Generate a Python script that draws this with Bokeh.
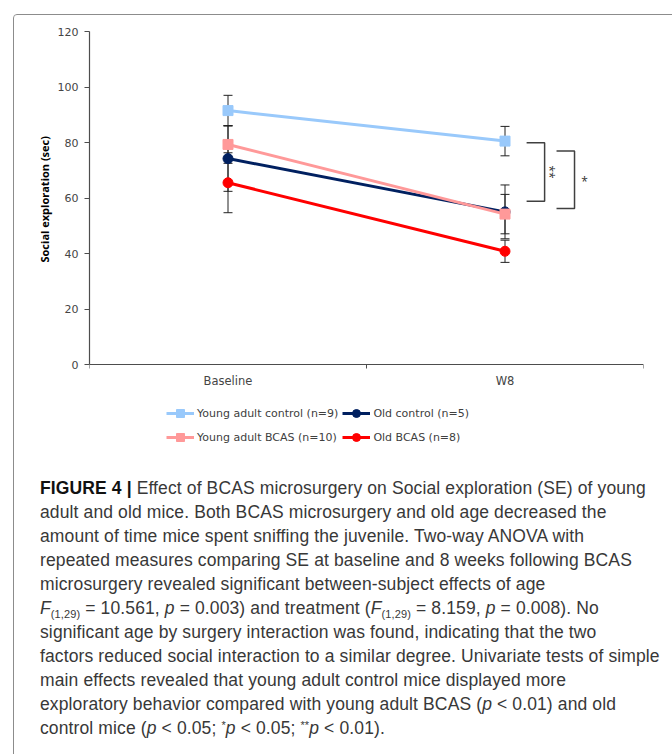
from bokeh.plotting import figure
from bokeh.models import (Range1d, FixedTicker, Whisker, TeeHead, ColumnDataSource,
                          Legend, LegendItem, Div, Title)
from bokeh.layouts import column
from bokeh.core.properties import value
from bokeh.embed import file_html
from bokeh.resources import INLINE
import math

# ---------------- data ----------------
categories = ["Baseline", "W8"]
group_names = ["Young adult control (n=9)", "Old control (n=5)",
               "Young adult BCAS (n=10)", "Old BCAS (n=8)"]
young_control_mean = [91.5, 80.5]
young_control_err = [5.5, 5.3]
old_control_mean = [74.2, 55.0]
old_control_err = [11.8, 9.7]
young_bcas_mean = [79.3, 54.2]
young_bcas_err = [6.8, 7.1]
old_bcas_mean = [65.5, 40.8]
old_bcas_err = [10.8, 4.0]
y_ticks = [0, 20, 40, 60, 80, 100, 120]
y_title = "Social exploration (sec)"
sig_labels = ["**", "*"]
sig_top = [79.9, 76.9]
sig_bottom = [58.8, 56.2]

# ---------------- figure ----------------
xs = [i + 0.5 for i in range(len(categories))]
Y_MAX = 120
# the frame extends below 0 so the legend can live inside it; 2.775 px per unit
Y_MIN = -(450 - 364) / 2.775

p = figure(output_backend="svg", toolbar_location=None,
           width=654, height=455,
           min_border_left=75, min_border_right=25, min_border_top=16, min_border_bottom=20,
           x_range=Range1d(0, len(categories)), y_range=Range1d(Y_MIN, Y_MAX))
p.outline_line_color = None
p.background_fill_color = "white"
p.border_fill_color = "white"
p.xgrid.visible = False
p.ygrid.visible = False

AX = "#4d4d4d"
TXT = "#454545"
FONT = "DejaVu Sans"

p.yaxis.ticker = FixedTicker(ticks=y_ticks)
p.yaxis.bounds = (0, Y_MAX)
p.yaxis.axis_line_color = AX
p.yaxis.axis_line_width = 1.2
p.yaxis.major_tick_line_color = AX
p.yaxis.major_tick_out = 5
p.yaxis.major_tick_in = 0
p.yaxis.minor_tick_line_color = None
p.yaxis.major_label_text_font = FONT
p.yaxis.major_label_text_font_size = "11px"
p.yaxis.major_label_text_color = TXT
p.yaxis.major_label_standoff = 6

ytitle = Title(text=y_title, align="left", offset=188, standoff=5,
               text_font="Open Sans", text_font_style="bold", text_font_size="11px",
               text_color="#000000")
p.add_layout(ytitle, "left")

p.xaxis.fixed_location = 0
p.xaxis.ticker = FixedTicker(ticks=xs, minor_ticks=list(range(len(categories) + 1)))
p.xaxis.major_label_overrides = {x: c for x, c in zip(xs, categories)}
p.xaxis.axis_line_color = AX
p.xaxis.axis_line_width = 1.2
p.xaxis.major_tick_line_color = None
p.xaxis.major_tick_out = 0
p.xaxis.major_tick_in = 0
p.xaxis.minor_tick_line_color = AX
p.xaxis.minor_tick_out = 4
p.xaxis.minor_tick_in = 0
p.xaxis.major_label_text_font = FONT
p.xaxis.major_label_text_font_size = "11.5px"
p.xaxis.major_label_text_color = TXT
p.xaxis.major_label_standoff = 5

series = [
    (group_names[0], young_control_mean, young_control_err, "#99c9fb", "square"),
    (group_names[1], old_control_mean, old_control_err, "#002060", "circle"),
    (group_names[2], young_bcas_mean, young_bcas_err, "#ff9999", "square"),
    (group_names[3], old_bcas_mean, old_bcas_err, "#ff0000", "circle"),
]

items = []
for name, mean, err, color, marker in series:
    src = ColumnDataSource(dict(x=xs, y=mean,
                                upper=[m + e for m, e in zip(mean, err)],
                                lower=[m - e for m, e in zip(mean, err)]))
    w = Whisker(source=src, base="x", upper="upper", lower="lower", dimension="height",
                line_color="#222222", line_width=1,
                upper_head=TeeHead(size=9, line_color="#222222", line_width=1),
                lower_head=TeeHead(size=9, line_color="#222222", line_width=1),
                level="underlay")
    p.add_layout(w)
    ln = p.line("x", "y", source=src, line_color=color, line_width=3)
    sc = p.scatter("x", "y", source=src, marker=marker, size=10,
                   fill_color=color, line_color=color)
    items.append(LegendItem(label=name, renderers=[ln, sc]))

# significance brackets
bx0 = [1.578, 1.686]
bx1 = [1.643, 1.751]
p.multi_line(xs=[[a, b, b, a] for a, b in zip(bx0, bx1)],
             ys=[[t, t, bt, bt] for t, bt in zip(sig_top, sig_bottom)],
             line_color="#404040", line_width=1.5)
p.text(x=[1.659], y=[(sig_top[0] + sig_bottom[0]) / 2], text=[sig_labels[0]],
       angle=-math.pi / 2, text_align="center", text_baseline="middle",
       text_font=value("Open Sans"), text_font_size="12px", text_color="#333333")
p.text(x=[1.787], y=[(sig_top[1] + sig_bottom[1]) / 2 - 0.7], text=[sig_labels[1]],
       text_align="center", text_baseline="middle",
       text_font=value("Open Sans"), text_font_size="12px", text_color="#333333")

legend = Legend(items=items, ncols=2, location=(77, 3), orientation="horizontal")
legend.border_line_color = None
legend.background_fill_alpha = 0
legend.margin = 0
legend.padding = 2
legend.spacing = 4
legend.glyph_width = 28
legend.glyph_height = 20
legend.label_height = 20
legend.label_standoff = 3
legend.label_text_font = FONT
legend.label_text_font_size = "11px"
legend.label_text_color = "#404040"
p.add_layout(legend, "center")

caption_html = """
<style>
 .cap i {font-style: italic;}
 .cap sub {font-size: 11px; line-height: 0; vertical-align: -4px;}
 .cap sup {font-size: 11px; line-height: 0; vertical-align: 5px;}
</style>
<div class="cap" style="font-family:'Liberation Sans', 'Helvetica Neue', Arial, sans-serif; font-size:17.5px; letter-spacing:0.12px; line-height:24px; color:#383838; padding:1px 0 0 21px; white-space:nowrap;">
<b style="color:#111111;">FIGURE 4 |</b> Effect of BCAS microsurgery on Social exploration (SE) of young<br>
adult and old mice. Both BCAS microsurgery and old age decreased the<br>
amount of time mice spent sniffing the juvenile. Two-way ANOVA with<br>
repeated measures comparing SE at baseline and 8 weeks following BCAS<br>
microsurgery revealed significant between-subject effects of age<br>
<i>F</i><sub>(1,29)</sub> = 10.561, <i>p</i> = 0.003) and treatment (<i>F</i><sub>(1,29)</sub> = 8.159, <i>p</i> = 0.008). No<br>
significant age by surgery interaction was found, indicating that the two<br>
factors reduced social interaction to a similar degree. Univariate tests of simple<br>
main effects revealed that young adult control mice displayed more<br>
exploratory behavior compared with young adult BCAS (<i>p</i> &lt; 0.01) and old<br>
control mice (<i>p</i> &lt; 0.05; <sup>*</sup><i>p</i> &lt; 0.05; <sup>**</sup><i>p</i> &lt; 0.01).
</div>
"""
cap = Div(text=caption_html, width=654, height=290)

lay = column(p, cap, margin=(14, 0, 0, 13),
             styles={"border": "1px solid #8c8c8c", "border-radius": "4px"})

open("out.html", "w").write(file_html(lay, INLINE))
